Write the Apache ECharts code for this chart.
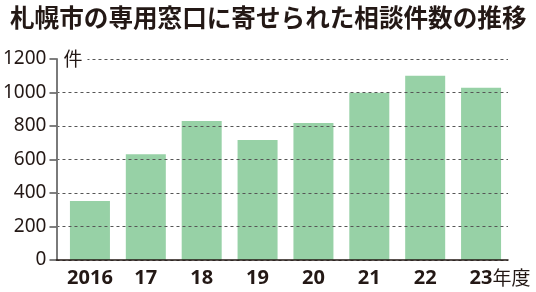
<!DOCTYPE html>
<html><head><meta charset="utf-8">
<script src="https://cdn.jsdelivr.net/npm/echarts@6/dist/echarts.min.js"></script>
<style>html,body{margin:0;padding:0;background:#fff}#c{width:536px;height:292px}</style>
</head><body><div id="c"></div>
<script>
const titleText = '札幌市の専用窓口に寄せられた相談件数の推移';
const categories = ['2016', '17', '18', '19', '20', '21', '22', '23'];
const counts = [352, 631, 830, 716, 818, 998, 1100, 1029];
const yTicks = [0, 200, 400, 600, 800, 1000, 1200];
const unitY = '件';
const unitX = '年度';

const FONT = '"Noto Sans", "Noto Sans CJK JP", sans-serif';
const INK = '#231815';
const chart = echarts.init(document.getElementById('c'), null, {renderer: 'canvas'});
chart.setOption({
  backgroundColor: '#fff',
  animation: false,
  title: {
    text: titleText, left: 5, top: 0,
    textStyle: {fontFamily: '"Noto Sans CJK JP", sans-serif', fontWeight: 'bold', fontSize: 24.6, color: INK}
  },
  grid: [
    {left: 53, right: 28, top: 59, bottom: 32},
    {left: 62, right: 27, top: 59, bottom: 32}
  ],
  xAxis: [
    {gridIndex: 0, type: 'category', data: categories,
     axisLine: {show: true, lineStyle: {color: INK, width: 1.5}},
     axisTick: {show: false}, axisLabel: {show: false}, splitLine: {show: false}, z: 4},
    {gridIndex: 1, type: 'category', data: categories,
     axisLine: {show: false}, axisTick: {show: false},
     axisLabel: {
       interval: 0, hideOverlap: false,
       margin: 8, color: INK, fontFamily: FONT,
       formatter: function (v, i) {
         return i === categories.length - 1 ? '{p|}{d|' + v + '}{u|' + unitX + '}' : '{d|' + v + '}';
       },
       rich: {
         d: {fontSize: 20, fontWeight: 'bold', color: INK, fontFamily: FONT},
         u: {fontSize: 19, color: INK, fontFamily: '"Noto Sans CJK JP", sans-serif'},
         p: {width: 38}
       }
     }}
  ],
  yAxis: [
    {gridIndex: 0, type: 'value', min: yTicks[0], max: yTicks[yTicks.length - 1], interval: 200, z: 3,
     name: unitY, nameLocation: 'end', nameGap: 0,
     nameTextStyle: {align: 'left', verticalAlign: 'middle', fontSize: 19, color: INK,
       fontFamily: '"Noto Sans CJK JP", sans-serif', backgroundColor: '#fff', padding: [2, 5, 2, 7]},
     axisLine: {show: true, lineStyle: {color: '#7a7a7a', width: 2}},
     axisTick: {show: true, length: 7, lineStyle: {color: '#555', width: 1.5}},
     axisLabel: {margin: 10, fontSize: 19, color: INK, fontFamily: FONT,
       formatter: function (v) { return String(v); }},
     splitLine: {show: true, lineStyle: {color: '#555', width: 1, type: [3, 3]}}},
    {gridIndex: 1, type: 'value', min: yTicks[0], max: yTicks[yTicks.length - 1], interval: 200,
     show: false, splitLine: {show: false}}
  ],
  series: [{
    type: 'bar', xAxisIndex: 1, yAxisIndex: 1, data: counts, barWidth: 40,
    itemStyle: {color: '#97d1a6'}, z: 2
  }]
});
</script></body></html>
